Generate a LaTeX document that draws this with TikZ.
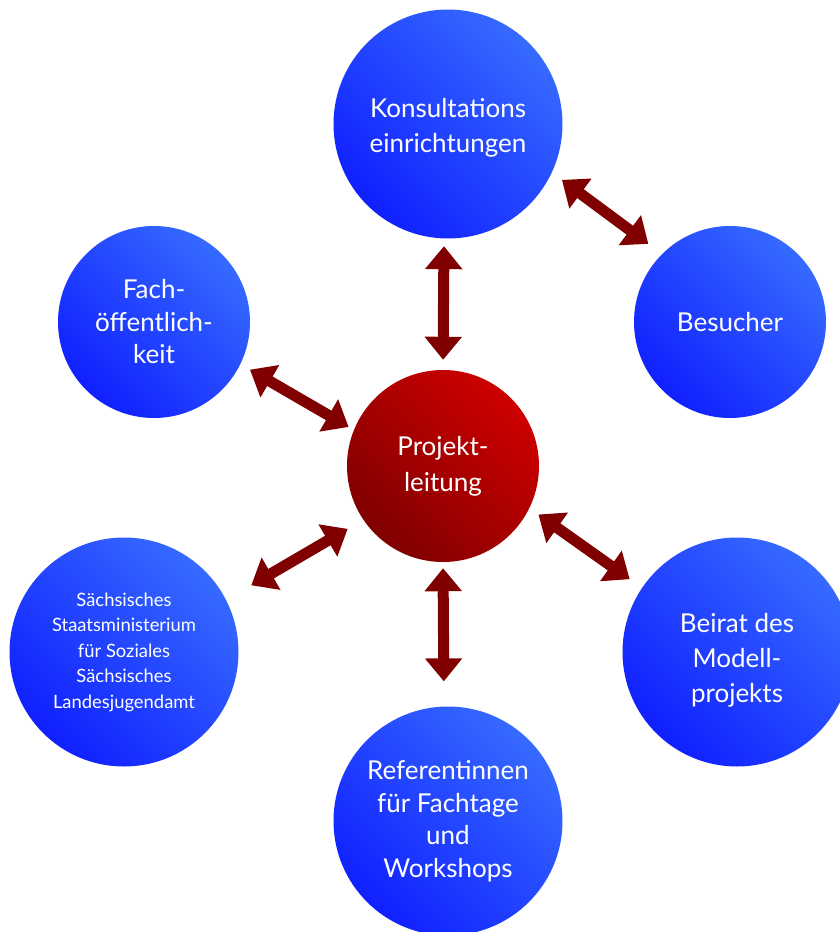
\documentclass[tikz,border=0pt]{standalone}
\usepackage{fontspec}
\setmainfont{Lato}
\usetikzlibrary{arrows.meta}
\definecolor{bluelight}{RGB}{54,106,255}
\definecolor{bluedark}{RGB}{16,32,255}
\definecolor{redlight}{RGB}{206,0,0}
\definecolor{reddark}{RGB}{128,0,0}
\definecolor{arrowred}{RGB}{128,0,0}
\tikzset{
  bubble/.style={circle, inner sep=0pt, text=white, align=center,
    top color=bluelight, bottom color=bluedark, shading angle=-45},
  bigbubble/.style={bubble, minimum size=229pt},
  smallbubble/.style={bubble, minimum size=192pt},
  hub/.style={circle, inner sep=0pt, text=white, align=center, minimum size=192pt,
    top color=redlight, bottom color=reddark, shading angle=-45},
  txt/.style={font=\fontsize{26}{32.5}\selectfont},
  smalltxt/.style={font=\fontsize{18.4}{25.5}\selectfont},
  whitetext/.style={inner sep=0pt, text=white, align=center},
  dblarrow/.style={draw=arrowred, line width=11pt,
    {Triangle[width=36pt,length=23pt]}-{Triangle[width=36pt,length=23pt]}}
}
\begin{document}
\begin{tikzpicture}[x=1pt,y=-1pt]
\useasboundingbox (0,0) rectangle (840,932);
\clip (0,0) rectangle (840,932);
\node[bigbubble] (kons) at (448,124) {};
\node[whitetext, font=\fontsize{26}{35}\selectfont] (konstext) at (448,128) {Konsultations\\einrichtungen};
\node[smallbubble, txt] (fach) at (154,322) {Fach-\\öffentlich-\\keit};
\node[smallbubble, txt] (bes) at (730,322) {Besucher};
\node[hub, txt, font=\fontsize{26}{36}\selectfont] (proj) at (443,466) {Projekt-\\leitung};
\node[bigbubble, smalltxt] (sach) at (124,652) {Sächsisches\\Staatsministerium\\für Soziales\\Sächsisches\\Landesjugendamt};
\node[bigbubble] (beir) at (737,652) {};
\node[whitetext, font=\fontsize{26}{35}\selectfont] (beirtext) at (737,660) {Beirat des\\Modell-\\projekts};
\node[bigbubble, txt] (ref) at (448,821) {Referentinnen\\für Fachtage\\und\\Workshops};

\draw[dblarrow, shorten <=7.5pt, shorten >=10pt] (kons.-92.3) -- (proj.90);
\draw[dblarrow, shorten <=12.5pt, shorten >=17pt] (kons.-25) -- (bes.135);
\draw[dblarrow, shorten <=11pt, shorten >=6pt] (fach.-26.6) -- (proj.158.2);
\draw[dblarrow, shorten <=29pt, shorten >=18pt] (sach.27.5) -- (proj.-146.4);
\draw[dblarrow, shorten <=11pt, shorten >=15pt] (proj.-26.6) -- (beir.146);
\draw[dblarrow, shorten <=6pt, shorten >=25pt] (proj.-90) -- (ref.92.1);
\end{tikzpicture}
\end{document}
